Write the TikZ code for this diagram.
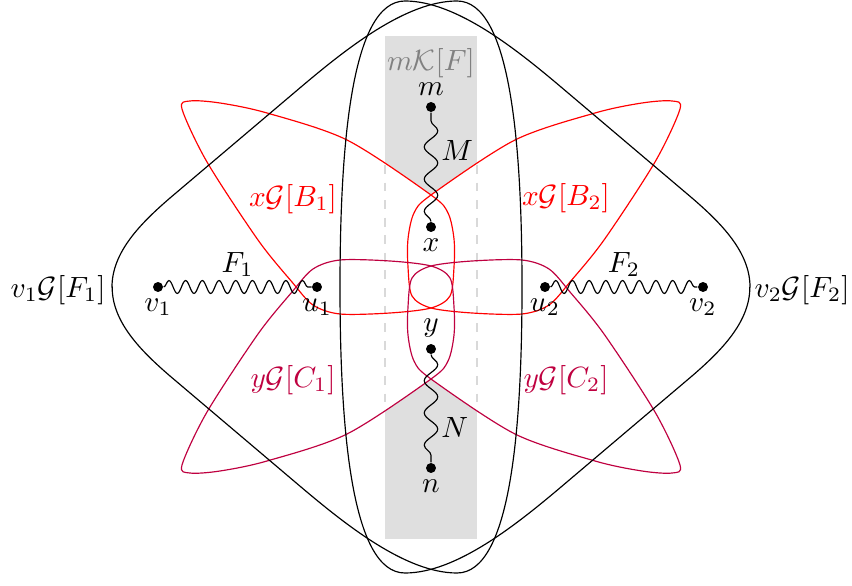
\documentclass[tikz,border=0pt]{standalone}
\usepackage{amsmath}
\usepackage{tikz}
\usetikzlibrary{decorations.pathmorphing, positioning}

\tikzset{
	dot/.style={circle, fill, inner sep=0pt, minimum size=3.4pt},
	wig/.style={decorate, decoration={snake, amplitude=2.2pt, segment length=5.7pt}},
	wiglong/.style={decorate, decoration={snake, amplitude=2.3pt, segment length=11pt}},
}

\begin{document}
\begin{tikzpicture}[scale=0.012, label distance=-1.5pt]
	\useasboundingbox (-431,-298) rectangle (421,287);
	% shaded column
	\fill[gray!25] (-46,-252) rectangle (46,251);
	% inside of the four loops
	\foreach \sx/\sy in {1/1,-1/1,1/-1,-1/-1}
		\fill[white, xscale=\sx, yscale=\sy] plot[smooth cycle] coordinates {
			(-249,178) (-241,186) (-211,184) (-164,174) (-84,147) (0,92) (17,74)
			(23,48) (23,20) (19,-9) (0,-21) (-41,-26) (-91,-27) (-118,-18)
			(-139,5) (-173,47) (-224,125)};
	\draw[gray!30, dashed] (-46,122) -- (-46,-122) (46,122) -- (46,-122);
	\foreach \sx/\sy/\col in {1/1/red,-1/1/red,1/-1/purple,-1/-1/purple}
		\draw[\col, xscale=\sx, yscale=\sy] plot[smooth cycle] coordinates {
			(-249,178) (-241,186) (-211,184) (-164,174) (-84,147) (0,92) (17,74)
			(23,48) (23,20) (19,-9) (0,-21) (-41,-26) (-91,-27) (-118,-18)
			(-139,5) (-173,47) (-224,125)};
	% the two big outer shapes
	\foreach \sx in {1,-1}
		\draw[xscale=\sx] (-319,0) .. controls (-319,35) and (-290,64) .. (-261,89)
			-- (-130,200) .. controls (-85,238) and (-25,286) .. (26,286)
			.. controls (80,286) and (91,140) .. (91,0)
			.. controls (91,-140) and (80,-286) .. (26,-286)
			.. controls (-25,-286) and (-85,-238) .. (-130,-200)
			-- (-261,-89) .. controls (-290,-64) and (-319,-35) .. cycle;

	\node[dot, label=above:$m$] (m) at (0,180) {};
	\node[dot, label=below:$x$] (x) at (0,60) {};
	\node[dot, label=above:$y$] (y) at (0,-62) {};
	\node[dot, label=below:$n$] (n) at (0,-181) {};
	\node[dot, label=below:$v_1$] (v1) at (-273,0) {};
	\node[dot, label=below:$u_1$] (u1) at (-114,0) {};
	\node[dot, label=below:$u_2$] (u2) at (114,0) {};
	\node[dot, label=below:$v_2$] (v2) at (272,0) {};

	\draw[wiglong] (x) -- node[right, pos=0.65] (lM) {$M$} (m);
	\draw[wiglong] (y) -- node[right, pos=0.68] (lN) {$N$} (n);
	\draw[wig] (v1) -- node[above] (lF1) {$F_1$} (u1);
	\draw[wig] (u2) -- node[above] (lF2) {$F_2$} (v2);

	\node[gray] (mk) at (0,224) {$m\mathcal{K}[F]$};
	\node[red] (xb1) at (-138,88) {$x\mathcal{G}[B_1]$};
	\node[red] (xb2) at (135,89) {$x\mathcal{G}[B_2]$};
	\node[purple] (yc1) at (-138,-93) {$y\mathcal{G}[C_1]$};
	\node[purple] (yc2) at (135,-93) {$y\mathcal{G}[C_2]$};
	\node (vf1) at (-373,-3) {$v_1\mathcal{G}[F_1]$};
	\node (vf2) at (371,-3) {$v_2\mathcal{G}[F_2]$};
\end{tikzpicture}
\end{document}
